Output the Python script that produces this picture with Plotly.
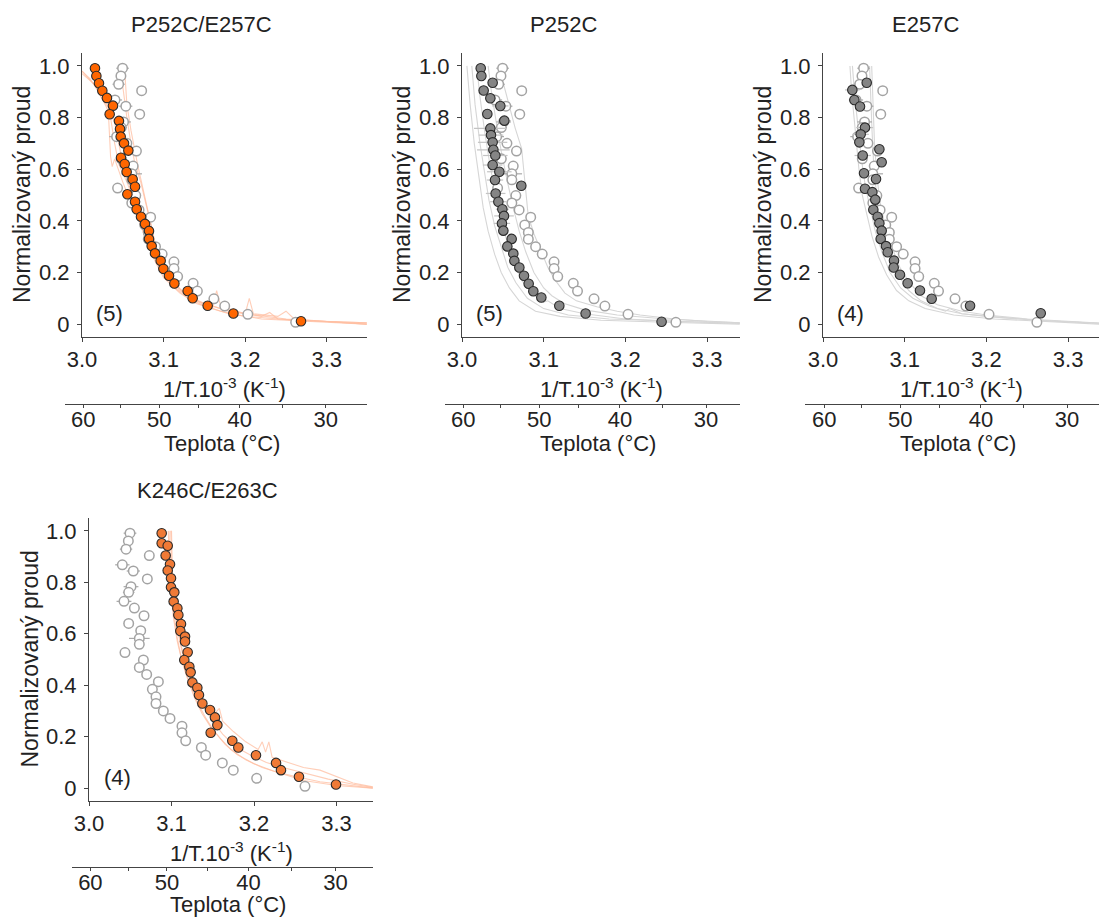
import plotly.graph_objects as go

W, H = 1099, 917

# ---------------- data ----------------
# open circles: wild-type reference, shown in every panel
wt_x = [3.0497, 3.0477, 3.0449, 3.0731, 3.0404, 3.0537, 3.0707, 3.0509, 3.0481, 3.0424,
        3.0550, 3.0667, 3.0481, 3.0627, 3.0610, 3.0610, 3.0436, 3.0659, 3.0610, 3.0699,
        3.0841, 3.0768, 3.0812, 3.0812, 3.0901, 3.0982, 3.1127, 3.1127, 3.1172, 3.1362,
        3.1414, 3.1616, 3.1749, 3.2032, 3.2618]
wt_y = [0.991, 0.961, 0.929, 0.904, 0.868, 0.844, 0.813, 0.783, 0.761, 0.726,
        0.700, 0.670, 0.640, 0.612, 0.582, 0.559, 0.527, 0.498, 0.469, 0.442,
        0.414, 0.384, 0.355, 0.329, 0.300, 0.271, 0.241, 0.215, 0.184, 0.158,
        0.128, 0.098, 0.070, 0.038, 0.007]
wt_err = [0.0077, 0.005, 0.0075, 0, 0.0087, 0.008, 0, 0.009, 0.007, 0.009,
          0.006, 0, 0.006, 0.006, 0.0125, 0.004, 0, 0.004, 0, 0,
          0, 0, 0, 0, 0, 0, 0, 0, 0, 0,
          0, 0, 0, 0, 0]

# P252C/E257C
p1_x = [3.0159, 3.0176, 3.0208, 3.0249, 3.0306, 3.0380, 3.0339, 3.0453, 3.0466, 3.0474,
        3.0515, 3.0568, 3.0478, 3.0523, 3.0547, 3.0621, 3.0650, 3.0556, 3.0650, 3.0670,
        3.0723, 3.0772, 3.0821, 3.0821, 3.0854, 3.0895, 3.0964, 3.0997, 3.1066, 3.1132,
        3.1295, 3.1356, 3.1540, 3.1855, 3.2684]
p1_y = [0.991, 0.961, 0.933, 0.904, 0.876, 0.846, 0.813, 0.787, 0.756, 0.726,
        0.700, 0.672, 0.644, 0.620, 0.589, 0.561, 0.532, 0.503, 0.474, 0.445,
        0.416, 0.388, 0.361, 0.330, 0.302, 0.274, 0.245, 0.214, 0.187, 0.157,
        0.128, 0.100, 0.071, 0.041, 0.011]

# P252C
p2_x = [3.0229, 3.0237, 3.0375, 3.0265, 3.0347, 3.0469, 3.0310, 3.0518, 3.0347, 3.0355,
        3.0375, 3.0384, 3.0408, 3.0375, 3.0457, 3.0404, 3.0726, 3.0412, 3.0445, 3.0494,
        3.0514, 3.0489, 3.0506, 3.0608, 3.0555, 3.0628, 3.0641, 3.0702, 3.0759, 3.0816,
        3.0873, 3.0971, 3.1191, 3.1513, 3.2443]
p2_y = [0.991, 0.961, 0.935, 0.905, 0.875, 0.845, 0.814, 0.788, 0.758, 0.732,
        0.704, 0.675, 0.653, 0.616, 0.590, 0.558, 0.536, 0.506, 0.474, 0.445,
        0.419, 0.390, 0.362, 0.330, 0.301, 0.273, 0.245, 0.219, 0.187, 0.156,
        0.127, 0.103, 0.071, 0.041, 0.009]
p2_err = [0, 0, 0.005, 0, 0.006, 0.010, 0, 0.008, 0.020, 0.015,
          0.018, 0.020, 0.015, 0.012, 0.015, 0.010, 0, 0.012, 0.010, 0.008,
          0.012, 0.010, 0.006, 0.005, 0, 0, 0, 0, 0, 0,
          0, 0, 0, 0, 0]

# E257C
p3_x = [3.0535, 3.0359, 3.0384, 3.0453, 3.0514, 3.0461, 3.0445, 3.0690, 3.0486, 3.0718,
        3.0502, 3.0649, 3.0514, 3.0604, 3.0640, 3.0616, 3.0669, 3.0690, 3.0718, 3.0706,
        3.0771, 3.0792, 3.0869, 3.0865, 3.0942, 3.1036, 3.1187, 3.1330, 3.1800, 3.2665]
p3_y = [0.935, 0.907, 0.868, 0.843, 0.761, 0.735, 0.704, 0.677, 0.653, 0.627,
        0.584, 0.562, 0.524, 0.511, 0.482, 0.443, 0.416, 0.391, 0.362, 0.330,
        0.302, 0.278, 0.246, 0.219, 0.191, 0.158, 0.130, 0.098, 0.071, 0.042]
p3_err = [0, 0.009, 0.006, 0.005, 0.010, 0.010, 0.006, 0, 0.010, 0,
          0.006, 0.005, 0.005, 0, 0, 0, 0, 0, 0, 0,
          0, 0, 0, 0, 0, 0, 0, 0, 0, 0]

# K246C/E263C
p4_x = [3.0881, 3.0881, 3.0954, 3.0929, 3.0982, 3.0954, 3.0994, 3.0994, 3.1034, 3.1026,
        3.1071, 3.1083, 3.1115, 3.1107, 3.1164, 3.1164, 3.1196, 3.1155, 3.1216, 3.1232,
        3.1253, 3.1313, 3.1333, 3.1374, 3.1467, 3.1527, 3.1556, 3.1475, 3.1737, 3.1810,
        3.2024, 3.2267, 3.2327, 3.2545, 3.2994]
p4_y = [0.991, 0.952, 0.942, 0.904, 0.870, 0.846, 0.816, 0.781, 0.761, 0.725,
        0.699, 0.673, 0.638, 0.611, 0.589, 0.570, 0.528, 0.498, 0.472, 0.450,
        0.411, 0.390, 0.362, 0.329, 0.304, 0.275, 0.245, 0.215, 0.184, 0.158,
        0.128, 0.098, 0.070, 0.044, 0.014]

# individual recordings (thin lines)
rec1 = [
    ([3.000, 3.010, 3.020, 3.030, 3.035, 3.040, 3.045, 3.055, 3.065, 3.075, 3.085, 3.095, 3.110, 3.130, 3.150, 3.180, 3.220, 3.280, 3.349],
     [0.98, 0.95, 0.90, 0.84, 0.80, 0.70, 0.62, 0.55, 0.47, 0.38, 0.29, 0.22, 0.15, 0.10, 0.07, 0.04, 0.02, 0.01, 0.0]),
    ([3.000, 3.015, 3.025, 3.032, 3.035, 3.037, 3.040, 3.050, 3.060, 3.070, 3.080, 3.090, 3.100, 3.120, 3.140, 3.170, 3.200, 3.260, 3.349],
     [0.97, 0.93, 0.87, 0.84, 0.65, 0.61, 0.64, 0.55, 0.47, 0.40, 0.31, 0.24, 0.18, 0.12, 0.08, 0.05, 0.03, 0.015, 0.005]),
    ([3.045, 3.050, 3.055, 3.060, 3.065, 3.072, 3.078, 3.085, 3.090, 3.100, 3.110, 3.125, 3.140, 3.160, 3.165, 3.170, 3.200, 3.205, 3.210, 3.240, 3.250, 3.260, 3.300, 3.349],
     [1.00, 0.92, 0.80, 0.70, 0.62, 0.55, 0.47, 0.38, 0.30, 0.22, 0.17, 0.12, 0.09, 0.06, 0.13, 0.07, 0.04, 0.10, 0.04, 0.03, 0.05, 0.02, 0.01, 0.005]),
    ([3.050, 3.053, 3.055, 3.060, 3.068, 3.075, 3.080, 3.085, 3.092, 3.100, 3.115, 3.130, 3.150, 3.180, 3.220, 3.230, 3.240, 3.300, 3.349],
     [0.99, 0.95, 0.85, 0.75, 0.62, 0.52, 0.45, 0.37, 0.28, 0.21, 0.15, 0.11, 0.08, 0.05, 0.03, 0.045, 0.02, 0.01, 0.0]),
    ([3.000, 3.020, 3.030, 3.040, 3.045, 3.050, 3.060, 3.070, 3.080, 3.090, 3.100, 3.120, 3.140, 3.170, 3.200, 3.250, 3.349],
     [0.98, 0.91, 0.86, 0.78, 0.70, 0.62, 0.52, 0.43, 0.33, 0.26, 0.20, 0.13, 0.09, 0.06, 0.04, 0.02, 0.0]),
]
rec2 = [
    ([3.006, 3.010, 3.015, 3.020, 3.026, 3.032, 3.040, 3.048, 3.058, 3.070, 3.090, 3.120, 3.170, 3.250, 3.340],
     [1.00, 0.85, 0.70, 0.58, 0.45, 0.36, 0.27, 0.20, 0.14, 0.09, 0.05, 0.03, 0.015, 0.007, 0.0]),
    ([3.012, 3.016, 3.022, 3.027, 3.033, 3.040, 3.048, 3.056, 3.066, 3.080, 3.100, 3.130, 3.180, 3.260, 3.340],
     [1.00, 0.85, 0.70, 0.60, 0.48, 0.38, 0.30, 0.22, 0.16, 0.10, 0.06, 0.035, 0.02, 0.01, 0.002]),
    ([3.018, 3.022, 3.028, 3.034, 3.040, 3.047, 3.055, 3.063, 3.073, 3.085, 3.100, 3.105, 3.120, 3.150, 3.200, 3.270, 3.340],
     [1.00, 0.88, 0.74, 0.62, 0.52, 0.42, 0.32, 0.24, 0.17, 0.12, 0.085, 0.09, 0.06, 0.04, 0.02, 0.01, 0.003]),
    ([3.032, 3.036, 3.042, 3.048, 3.055, 3.062, 3.070, 3.078, 3.088, 3.100, 3.110, 3.125, 3.150, 3.190, 3.250, 3.340],
     [1.00, 0.90, 0.78, 0.67, 0.56, 0.46, 0.36, 0.28, 0.20, 0.14, 0.11, 0.08, 0.055, 0.035, 0.02, 0.005]),
    ([3.045, 3.055, 3.065, 3.073, 3.077, 3.081, 3.088, 3.096, 3.105, 3.114, 3.126, 3.140, 3.165, 3.190, 3.218, 3.260, 3.300, 3.340],
     [1.00, 0.88, 0.76, 0.68, 0.55, 0.42, 0.35, 0.29, 0.22, 0.17, 0.12, 0.09, 0.067, 0.05, 0.035, 0.02, 0.01, 0.005]),
]
rec3 = [
    ([3.033, 3.035, 3.038, 3.041, 3.044, 3.048, 3.054, 3.060, 3.068, 3.078, 3.090, 3.105, 3.125, 3.160, 3.210, 3.280, 3.338],
     [1.00, 0.90, 0.80, 0.70, 0.60, 0.50, 0.42, 0.34, 0.26, 0.19, 0.13, 0.09, 0.06, 0.035, 0.02, 0.01, 0.0]),
    ([3.036, 3.039, 3.043, 3.047, 3.052, 3.058, 3.064, 3.072, 3.082, 3.095, 3.110, 3.130, 3.150, 3.155, 3.170, 3.200, 3.260, 3.338],
     [1.00, 0.88, 0.76, 0.64, 0.53, 0.44, 0.36, 0.28, 0.20, 0.14, 0.10, 0.07, 0.05, 0.06, 0.04, 0.03, 0.015, 0.003]),
    ([3.057, 3.058, 3.060, 3.062, 3.065, 3.069, 3.074, 3.082, 3.092, 3.105, 3.120, 3.140, 3.170, 3.220, 3.280, 3.338],
     [1.00, 0.90, 0.75, 0.62, 0.52, 0.42, 0.34, 0.26, 0.19, 0.13, 0.09, 0.06, 0.04, 0.025, 0.012, 0.003]),
    ([3.0596, 3.061, 3.063, 3.066, 3.070, 3.076, 3.084, 3.094, 3.106, 3.120, 3.140, 3.170, 3.200, 3.250, 3.300, 3.338],
     [1.00, 0.86, 0.70, 0.57, 0.47, 0.38, 0.30, 0.22, 0.16, 0.11, 0.075, 0.05, 0.035, 0.02, 0.01, 0.004]),
]
rec4 = [
    ([3.097, 3.098, 3.100, 3.102, 3.106, 3.111, 3.117, 3.124, 3.132, 3.142, 3.152, 3.165, 3.180, 3.200, 3.225, 3.250, 3.280, 3.310, 3.344],
     [1.00, 0.90, 0.80, 0.70, 0.60, 0.52, 0.45, 0.39, 0.33, 0.27, 0.22, 0.17, 0.13, 0.095, 0.065, 0.045, 0.025, 0.012, 0.0]),
    ([3.100, 3.101, 3.103, 3.107, 3.112, 3.119, 3.127, 3.135, 3.145, 3.152, 3.158, 3.162, 3.175, 3.190, 3.205, 3.210, 3.214, 3.218, 3.222, 3.240, 3.260, 3.280, 3.300, 3.320, 3.344],
     [1.00, 0.85, 0.72, 0.62, 0.55, 0.47, 0.40, 0.34, 0.30, 0.29, 0.31, 0.26, 0.22, 0.18, 0.15, 0.18, 0.14, 0.18, 0.12, 0.10, 0.08, 0.07, 0.045, 0.02, 0.005]),
    ([3.099, 3.100, 3.103, 3.106, 3.110, 3.115, 3.122, 3.130, 3.140, 3.150, 3.162, 3.178, 3.195, 3.215, 3.235, 3.260, 3.290, 3.320, 3.344],
     [1.00, 0.88, 0.75, 0.65, 0.57, 0.50, 0.43, 0.37, 0.31, 0.26, 0.21, 0.16, 0.13, 0.10, 0.08, 0.06, 0.035, 0.015, 0.003]),
    ([3.096, 3.097, 3.099, 3.102, 3.107, 3.113, 3.120, 3.128, 3.137, 3.147, 3.160, 3.172, 3.190, 3.210, 3.235, 3.260, 3.300, 3.344],
     [1.00, 0.90, 0.78, 0.67, 0.57, 0.49, 0.42, 0.35, 0.29, 0.24, 0.19, 0.15, 0.11, 0.08, 0.055, 0.03, 0.01, 0.0]),
]

titles = ["P252C/E257C", "P252C", "E257C", "K246C/E263C"]
counts = ["(5)", "(5)", "(4)", "(4)"]
y_ticks = [0, 0.2, 0.4, 0.6, 0.8, 1.0]
y_ticktext = ["0", "0.2", "0.4", "0.6", "0.8", "1.0"]
x_ticks = [3.0, 3.1, 3.2, 3.3]
temp_major = [60, 50, 40, 30]
temp_minor = [55, 45, 35]

# ---------------- styling ----------------
FONT = "Liberation Sans, Arial, sans-serif"
TXT = "#222222"
AX = "#444444"
FS = 22

panels = [
    dict(left=82, right=367, top=53, bottom=337, scale=816, tleft=65, ty=404, tt=443,
         data=(p1_x, p1_y, None), fill="#FF6600", recs=rec1, rcol="rgba(255,190,160,0.75)",
         title=(201, 25)),
    dict(left=462, right=740, top=53, bottom=337, scale=817, tleft=445, ty=404, tt=443,
         data=(p2_x, p2_y, p2_err), fill="#858585", recs=rec2, rcol="#D6D6D6",
         title=(563, 25)),
    dict(left=823, right=1099, top=53, bottom=337, scale=817, tleft=805, ty=404, tt=443,
         data=(p3_x, p3_y, p3_err), fill="#858585", recs=rec3, rcol="#D6D6D6",
         title=(925, 25)),
    dict(left=89, right=373, top=518, bottom=801, scale=825, tleft=72, ty=867, tt=904,
         data=(p4_x, p4_y, None), fill="#F07A36", recs=rec4, rcol="rgba(255,190,160,0.75)",
         title=(207, 490)),
]


def kelvin_inv(tc):
    return 1000.0 / (tc + 273.15)


fig = go.Figure()
annotations = []
layout = {}

for i, p in enumerate(panels):
    n = i + 1
    xa = "x" if n == 1 else f"x{n}"
    ya = "y" if n == 1 else f"y{n}"
    ta = f"x{n + 4}"
    xmax = 3.0 + (p["right"] - p["left"]) / p["scale"]
    tmin = 3.0 - (p["left"] - p["tleft"]) / p["scale"]

    # recordings
    for rx, ry in p["recs"]:
        fig.add_trace(go.Scatter(x=rx, y=ry, mode="lines", xaxis=xa, yaxis=ya,
                                 line=dict(color=p["rcol"], width=1.1),
                                 showlegend=False, hoverinfo="skip"))
    # WT open circles
    fig.add_trace(go.Scatter(x=wt_x, y=wt_y, mode="markers", xaxis=xa, yaxis=ya,
                             error_x=dict(type="data", array=wt_err, color="#A8A8A8",
                                          thickness=1.2, width=0),
                             marker=dict(symbol="circle", size=9.5, color="white",
                                         line=dict(color="#A3A3A3", width=1.5)),
                             showlegend=False))
    # mutant filled circles
    dx, dy, derr = p["data"]
    err = dict(type="data", array=derr, color="#C4C4C4", thickness=1.2, width=0) if derr else None
    fig.add_trace(go.Scatter(x=dx, y=dy, mode="markers", xaxis=xa, yaxis=ya,
                             error_x=err,
                             marker=dict(symbol="circle", size=9.5, color=p["fill"],
                                         line=dict(color="#2A2A2A", width=1.1)),
                             showlegend=False))
    # anchor trace for the temperature axis
    fig.add_trace(go.Scatter(x=[3.1], y=[0.5], mode="markers", xaxis=ta, yaxis=ya,
                             marker=dict(opacity=0), showlegend=False, hoverinfo="skip"))

    xdom = [p["left"] / W, p["right"] / W]
    ydom = [1 - p["bottom"] / H, 1 - p["top"] / H]
    tick_font = dict(family=FONT, size=FS, color=TXT)
    layout["xaxis" if n == 1 else f"xaxis{n}"] = dict(
        domain=xdom, anchor=ya, range=[3.0, xmax], tickvals=x_ticks,
        tickformat=".1f", showline=True, linecolor=AX, linewidth=1.2,
        ticks="outside", ticklen=4, tickcolor=AX, showgrid=False, zeroline=False,
        tickfont=tick_font, ticklabelstandoff=-2, automargin=False)
    layout["yaxis" if n == 1 else f"yaxis{n}"] = dict(
        domain=ydom, anchor=xa, range=[-0.05, 1.05], tickvals=y_ticks,
        ticktext=y_ticktext, showline=True, linecolor=AX, linewidth=1.2,
        ticks="outside", ticklen=4, tickcolor=AX, showgrid=False, zeroline=False,
        tickfont=tick_font, ticklabelstandoff=3, automargin=False)
    layout[f"xaxis{n + 4}"] = dict(
        domain=[p["tleft"] / W, p["right"] / W], anchor="free",
        position=1 - p["ty"] / H, range=[tmin, xmax],
        tickmode="array", tickvals=[kelvin_inv(t) for t in temp_major],
        ticktext=[str(t) for t in temp_major],
        minor=dict(tickmode="array", tickvals=[kelvin_inv(t) for t in temp_minor],
                   ticks="outside", ticklen=3, tickcolor=AX),
        showline=True, linecolor=AX, linewidth=1.2, ticks="outside", ticklen=3,
        tickcolor=AX, showgrid=False, zeroline=False, tickfont=tick_font,
        ticklabelstandoff=-8, automargin=False)

    xc = (p["left"] + p["right"]) / 2 / W
    base = p["bottom"]
    annotations += [
        dict(text=titles[i], x=p["title"][0] / W, y=1 - p["title"][1] / H,
             xref="paper", yref="paper", showarrow=False, xanchor="center",
             yanchor="middle", font=dict(family=FONT, size=FS, color=TXT)),
        dict(text="Normalizovaný proud", textangle=-90,
             x=(p["left"] - 60) / W, y=1 - (p["top"] + p["bottom"]) / 2 / H,
             xref="paper", yref="paper", showarrow=False, xanchor="center",
             yanchor="middle", font=dict(family=FONT, size=FS + 1, color=TXT)),
        dict(text="1/T.10<sup>-3</sup> (K<sup>-1</sup>)", x=xc, y=1 - (base + 51) / H,
             xref="paper", yref="paper", showarrow=False, xanchor="center",
             yanchor="middle", font=dict(family=FONT, size=FS, color=TXT)),
        dict(text="Teplota (°C)", x=xc - 3 / W, y=1 - p["tt"] / H,
             xref="paper", yref="paper", showarrow=False, xanchor="center",
             yanchor="middle", font=dict(family=FONT, size=FS, color=TXT)),
        dict(text=counts[i], x=3.034, y=0.04, xref=xa, yref=ya, showarrow=False,
             xanchor="center", yanchor="middle", font=dict(family=FONT, size=FS, color=TXT)),
    ]

fig.update_layout(
    width=W, height=H, autosize=False,
    margin=dict(l=0, r=0, t=0, b=0, pad=0, autoexpand=False),
    paper_bgcolor="white", plot_bgcolor="rgba(0,0,0,0)",
    showlegend=False, annotations=annotations, **layout)

fig.write_html("out.html", config={"displayModeBar": False},
               post_script="document.body.style.margin='0';"
                           "document.documentElement.style.overflow='hidden';")
